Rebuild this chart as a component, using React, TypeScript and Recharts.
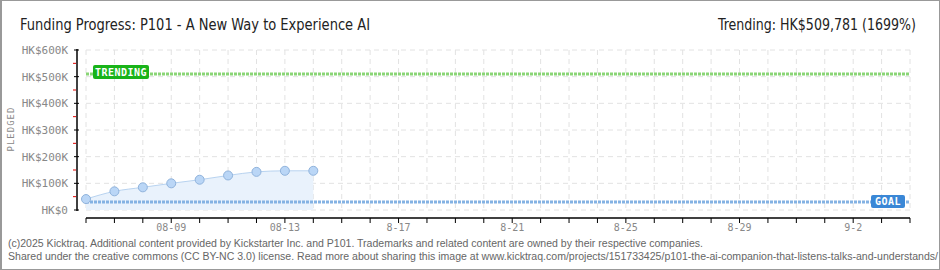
import React from 'react'
import { ComposedChart, Area, XAxis, YAxis, CartesianGrid, ReferenceLine, usePlotArea } from 'recharts'

// day index 0 = Aug 6
const pledgeDays = [0, 1, 2, 3, 4, 5, 6, 7, 8]
const pledged = [41000, 70000, 85000, 100000, 113500, 129500, 143000, 147000, 147000]

const allDays = Array.from({ length: 30 }, (_, i) => i)
const dayLabels: Record<number, string> = {
  3: '08-09',
  7: '08-13',
  11: '8-17',
  15: '8-21',
  19: '8-25',
  23: '8-29',
  27: '9-2',
}

const yTicks = [0, 50000, 100000, 150000, 200000, 250000, 300000, 350000, 400000, 450000, 500000, 550000, 600000]
const yGrid = [0, 100000, 200000, 300000, 400000, 500000, 600000]

const trending = 509781
const goal = 30000

const chartData = pledgeDays.map((d, i) => ({ day: d, pledged: pledged[i] }))

const mono = '"DejaVu Sans Mono", monospace'
const narrow = '"DejaVu Sans Condensed", "Liberation Sans Narrow", sans-serif'

// axis lines sit a few px away from the plot area
const X_GAP = 8
const Y_GAP = 9

const YTick = ({ x, y, payload }: any) => {
  const v = payload.value as number
  const ax = x - Y_GAP
  if (v % 100000 !== 0) {
    return <line x1={ax - 4} x2={ax - 1} y1={y} y2={y} stroke="#e00000" strokeWidth={1} />
  }
  return (
    <g>
      <line x1={ax - 3} x2={ax + 2} y1={y} y2={y} stroke="#000" strokeWidth={1} />
      <text x={ax - 9} y={y + 4} textAnchor="end" fill="#888" fontSize={11} fontFamily={mono}>
        {v === 0 ? 'HK$0' : `HK$${v / 1000}K`}
      </text>
    </g>
  )
}

const XTick = ({ x, y, payload }: any) => {
  const label = dayLabels[payload.value]
  const ay = y + X_GAP
  return (
    <g>
      <line x1={x} x2={x} y1={ay} y2={ay + 5} stroke="#000" strokeWidth={1} />
      {label && (
        <text x={x} y={ay + 13} textAnchor="middle" fill="#888" fontSize={10} fontFamily={mono}>
          {label}
        </text>
      )}
    </g>
  )
}

const AxisLines = () => {
  const plot = usePlotArea()
  if (!plot) return null
  const { x, y, width, height } = plot
  return (
    <g>
      <line x1={x - Y_GAP} x2={x - Y_GAP} y1={y - 1} y2={y + height + 1} stroke="#000" strokeWidth={1.5} />
      <line x1={x} x2={x + width} y1={y + height + X_GAP} y2={y + height + X_GAP} stroke="#000" strokeWidth={1.5} />
    </g>
  )
}

const TrendingLabel = ({ viewBox }: any) => {
  const { x, y } = viewBox
  return (
    <g>
      <rect x={x + 7} y={y - 9} width={56} height={14} rx={2} fill="#19b319" />
      <text x={x + 35} y={y + 2} textAnchor="middle" fill="#fff" fontSize={10} fontWeight="bold" fontFamily={mono} letterSpacing={0.5}>
        TRENDING
      </text>
    </g>
  )
}

const GoalLabel = ({ viewBox }: any) => {
  const { x, y, width } = viewBox
  return (
    <g>
      <rect x={x + width - 39} y={y - 7} width={34} height={13} rx={2} fill="#3a87d6" />
      <text x={x + width - 22} y={y + 3} textAnchor="middle" fill="#fff" fontSize={10} fontWeight="bold" fontFamily={mono} letterSpacing={0.5}>
        GOAL
      </text>
    </g>
  )
}

export default function App() {
  return (
    <div
      style={{
        position: 'absolute',
        left: 0,
        top: 0,
        width: 940,
        height: 270,
        background: '#fff',
        boxSizing: 'border-box',
        border: '1px solid #999',
        borderLeft: '2px solid #999',
        overflow: 'hidden',
      }}
    >
      <div style={{ position: 'absolute', left: -2, top: -1 }}>
        <ComposedChart width={940} height={270} data={chartData} margin={{ top: 50, right: 30, left: 0, bottom: 0 }}>
          <CartesianGrid
            stroke="#e2e2e2"
            strokeDasharray="5 4"
            horizontalValues={yGrid}
            verticalValues={allDays}
          />
          <XAxis
            dataKey="day"
            type="number"
            domain={[0, 29]}
            ticks={allDays}
            interval={0}
            height={60}
            tickSize={0}
            tickMargin={0}
            tickLine={false}
            axisLine={false}
            tick={<XTick />}
          />
          <YAxis
            type="number"
            domain={[0, 600000]}
            ticks={yTicks}
            interval={0}
            width={86}
            tickSize={0}
            tickMargin={0}
            tickLine={false}
            axisLine={false}
            tick={<YTick />}
          />
          <AxisLines />
          <Area
            type="monotone"
            dataKey="pledged"
            stroke="#b8d3f0"
            strokeWidth={1}
            fill="#e9f2fc"
            fillOpacity={1}
            dot={{ r: 4.5, fill: '#bad6f6', stroke: '#90b3dc', strokeWidth: 1 }}
            activeDot={false}
            isAnimationActive={false}
          />
          <ReferenceLine y={trending} stroke="#8ad576" strokeWidth={3} strokeDasharray="3 1" label={<TrendingLabel />} />
          <ReferenceLine y={goal} stroke="#84b2e3" strokeWidth={3} strokeDasharray="3 1" label={<GoalLabel />} />
        </ComposedChart>
      </div>

      <svg width={940} height={270} style={{ position: 'absolute', left: -2, top: -1, pointerEvents: 'none' }}>
        <text
          x={11}
          y={129}
          transform="rotate(-90 11 129)"
          textAnchor="middle"
          dominantBaseline="central"
          fill="#888"
          fontSize={9}
          fontFamily={mono}
          letterSpacing={1}
        >
          PLEDGED
        </text>
        <text x={20} y={30} fill="#222" fontSize={16} fontFamily={narrow} textLength={350} lengthAdjust="spacingAndGlyphs">
          Funding Progress: P101 - A New Way to Experience AI
        </text>
        <text x={718} y={30} fill="#222" fontSize={15} fontFamily={narrow} textLength={198} lengthAdjust="spacingAndGlyphs">
          Trending: HK$509,781 (1699%)
        </text>
        <text x={8} y={247} fill="#666" fontSize={10} fontFamily='"Liberation Sans", sans-serif' textLength={695} lengthAdjust="spacingAndGlyphs">
          (c)2025 Kicktraq. Additional content provided by Kickstarter Inc. and P101. Trademarks and related content are owned by their respective companies.
        </text>
        <text x={8} y={260} fill="#666" fontSize={10} fontFamily='"Liberation Sans", sans-serif' textLength={930} lengthAdjust="spacingAndGlyphs">
          Shared under the creative commons (CC BY-NC 3.0) license. Read more about sharing this image at www.kicktraq.com/projects/151733425/p101-the-ai-companion-that-listens-talks-and-understands/
        </text>
      </svg>
    </div>
  )
}
